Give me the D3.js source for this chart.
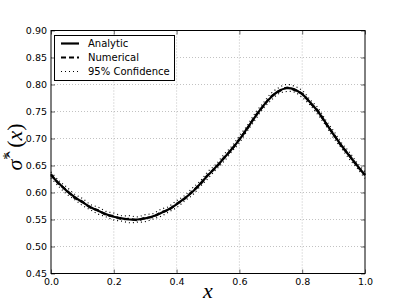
<!DOCTYPE html>
<html><head><meta charset="utf-8">
<script src="https://cdn.jsdelivr.net/npm/d3@7"></script>
<style>body{margin:0;background:#fff}svg{display:block}</style>
</head><body>
<script>
const xs = [0.000,0.025,0.050,0.075,0.100,0.125,0.150,0.175,0.200,0.225,0.250,0.275,0.300,0.325,0.350,0.375,0.400,0.425,0.450,0.475,0.500,0.525,0.550,0.575,0.600,0.625,0.650,0.675,0.700,0.725,0.750,0.775,0.800,0.825,0.850,0.875,0.900,0.925,0.950,0.975,1.000];
const analytic = [0.632,0.617,0.603,0.592,0.582,0.573,0.566,0.560,0.555,0.552,0.550,0.550,0.552,0.556,0.562,0.569,0.578,0.589,0.601,0.616,0.632,0.647,0.663,0.680,0.698,0.719,0.740,0.760,0.776,0.788,0.793,0.791,0.782,0.767,0.750,0.729,0.707,0.687,0.668,0.650,0.632];
const numerical = [0.634,0.616,0.604,0.590,0.583,0.572,0.567,0.559,0.556,0.551,0.551,0.549,0.553,0.555,0.563,0.568,0.579,0.588,0.602,0.615,0.633,0.646,0.664,0.679,0.699,0.718,0.741,0.759,0.777,0.787,0.794,0.790,0.783,0.766,0.751,0.728,0.708,0.686,0.669,0.649,0.633];
const upper95 = [0.638,0.622,0.610,0.597,0.589,0.578,0.573,0.565,0.562,0.557,0.557,0.555,0.559,0.561,0.569,0.574,0.585,0.594,0.608,0.621,0.639,0.652,0.670,0.685,0.705,0.724,0.747,0.765,0.783,0.794,0.800,0.797,0.789,0.772,0.757,0.734,0.714,0.692,0.675,0.655,0.638];
const lower95 = [0.627,0.611,0.597,0.587,0.576,0.568,0.560,0.555,0.549,0.547,0.544,0.545,0.546,0.551,0.556,0.564,0.572,0.584,0.595,0.611,0.626,0.642,0.657,0.675,0.692,0.714,0.734,0.755,0.770,0.783,0.787,0.786,0.776,0.762,0.744,0.724,0.701,0.682,0.662,0.645,0.626];
const xTicks = [0.0,0.2,0.4,0.6,0.8,1.0];
const yTicks = [0.45,0.50,0.55,0.60,0.65,0.70,0.75,0.80,0.85,0.90];
const legendLabels = ["Analytic","Numerical","95% Confidence"];

const W=407,H=305;
const svg=d3.select("body").append("svg").attr("width",W).attr("height",H);
const L=51,R=365,T=30.5,B=273.5;
const x=d3.scaleLinear().domain([0,1]).range([L,R]);
const y=d3.scaleLinear().domain([0.45,0.90]).range([B,T]);
const font="DejaVu Sans, sans-serif";

// grid
const g=svg.append("g");
g.selectAll(".vg").data(xTicks.slice(1,-1)).enter().append("line")
 .attr("x1",d=>x(d)).attr("x2",d=>x(d)).attr("y1",T).attr("y2",B)
 .attr("stroke","#999").attr("stroke-width",0.6).attr("stroke-dasharray","1,2");
g.selectAll(".hg").data(yTicks.slice(1,-1)).enter().append("line")
 .attr("y1",d=>y(d)).attr("y2",d=>y(d)).attr("x1",L).attr("x2",R)
 .attr("stroke","#999").attr("stroke-width",0.6).attr("stroke-dasharray","1,2");

// axes
const ax=d3.axisBottom(x).tickValues(xTicks).tickFormat(d3.format(".1f")).tickSizeInner(-4).tickSizeOuter(0).tickPadding(5);
const ay=d3.axisLeft(y).tickValues(yTicks).tickFormat(d3.format(".2f")).tickSizeInner(-4).tickSizeOuter(0).tickPadding(4);
const axT=d3.axisTop(x).tickValues(xTicks).tickFormat("").tickSizeInner(-4).tickSizeOuter(0);
const ayR=d3.axisRight(y).tickValues(yTicks).tickFormat("").tickSizeInner(-4).tickSizeOuter(0);
function style(sel){sel.select(".domain").remove();sel.selectAll("line").attr("stroke","#000").attr("stroke-width",0.6);sel.selectAll("text").attr("font-family",font).attr("font-size","9.5px").attr("fill","#000");}
svg.append("g").attr("transform",`translate(0,${B})`).call(ax).call(style);
svg.append("g").attr("transform",`translate(${L},0)`).call(ay).call(style);
svg.append("g").attr("transform",`translate(0,${T})`).call(axT).call(style);
svg.append("g").attr("transform",`translate(${R},0)`).call(ayR).call(style);

// lines
const lineOf=arr=>d3.line().x((d,i)=>x(xs[i])).y(d=>y(d)).curve(d3.curveCatmullRom)(arr);
svg.append("path").attr("d",lineOf(upper95)).attr("fill","none").attr("stroke","#000").attr("stroke-width",1.2).attr("stroke-dasharray","1,3");
svg.append("path").attr("d",lineOf(lower95)).attr("fill","none").attr("stroke","#000").attr("stroke-width",1.2).attr("stroke-dasharray","1,3");
svg.append("path").attr("d",lineOf(analytic)).attr("fill","none").attr("stroke","#000").attr("stroke-width",2.2);
svg.append("path").attr("d",lineOf(numerical)).attr("fill","none").attr("stroke","#000").attr("stroke-width",2.2).attr("stroke-dasharray","5,3");

// frame
svg.append("rect").attr("x",L).attr("y",T).attr("width",R-L).attr("height",B-T).attr("fill","none").attr("stroke","#000").attr("stroke-width",1);

// legend
const lg=svg.append("g");
lg.append("rect").attr("x",54.5).attr("y",35.5).attr("width",120).attr("height",45).attr("fill","#fff").attr("stroke","#000").attr("stroke-width",1);
const dashes=[null,"5,3","1,3"];
const widths=[2.2,2.2,1.2];
legendLabels.forEach((lab,i)=>{
  const yy=43.5+i*14;
  lg.append("line").attr("x1",61).attr("x2",79).attr("y1",yy).attr("y2",yy).attr("stroke","#000").attr("stroke-width",widths[i]).attr("stroke-dasharray",dashes[i]);
  lg.append("text").attr("x",88).attr("y",yy+3.5).attr("font-family",font).attr("font-size","10px").text(lab);
});

// axis labels
svg.append("text").attr("x",(L+R)/2).attr("y",298).attr("text-anchor","middle")
 .attr("font-family","Liberation Serif, serif").attr("font-style","italic").attr("font-size","22px").text("x");
const yl=svg.append("text").attr("transform","translate(22,147) rotate(-90)").attr("text-anchor","middle")
 .attr("font-family","Liberation Serif, serif").attr("font-size","22px");
yl.append("tspan").attr("font-style","italic").text("σ\u0302");
yl.append("tspan").attr("dy",-9).attr("font-size","15px").text("*");
yl.append("tspan").attr("dy",9).text("\u2009(");
yl.append("tspan").attr("font-style","italic").text("x");
yl.append("tspan").text(")");
</script>
</body></html>
